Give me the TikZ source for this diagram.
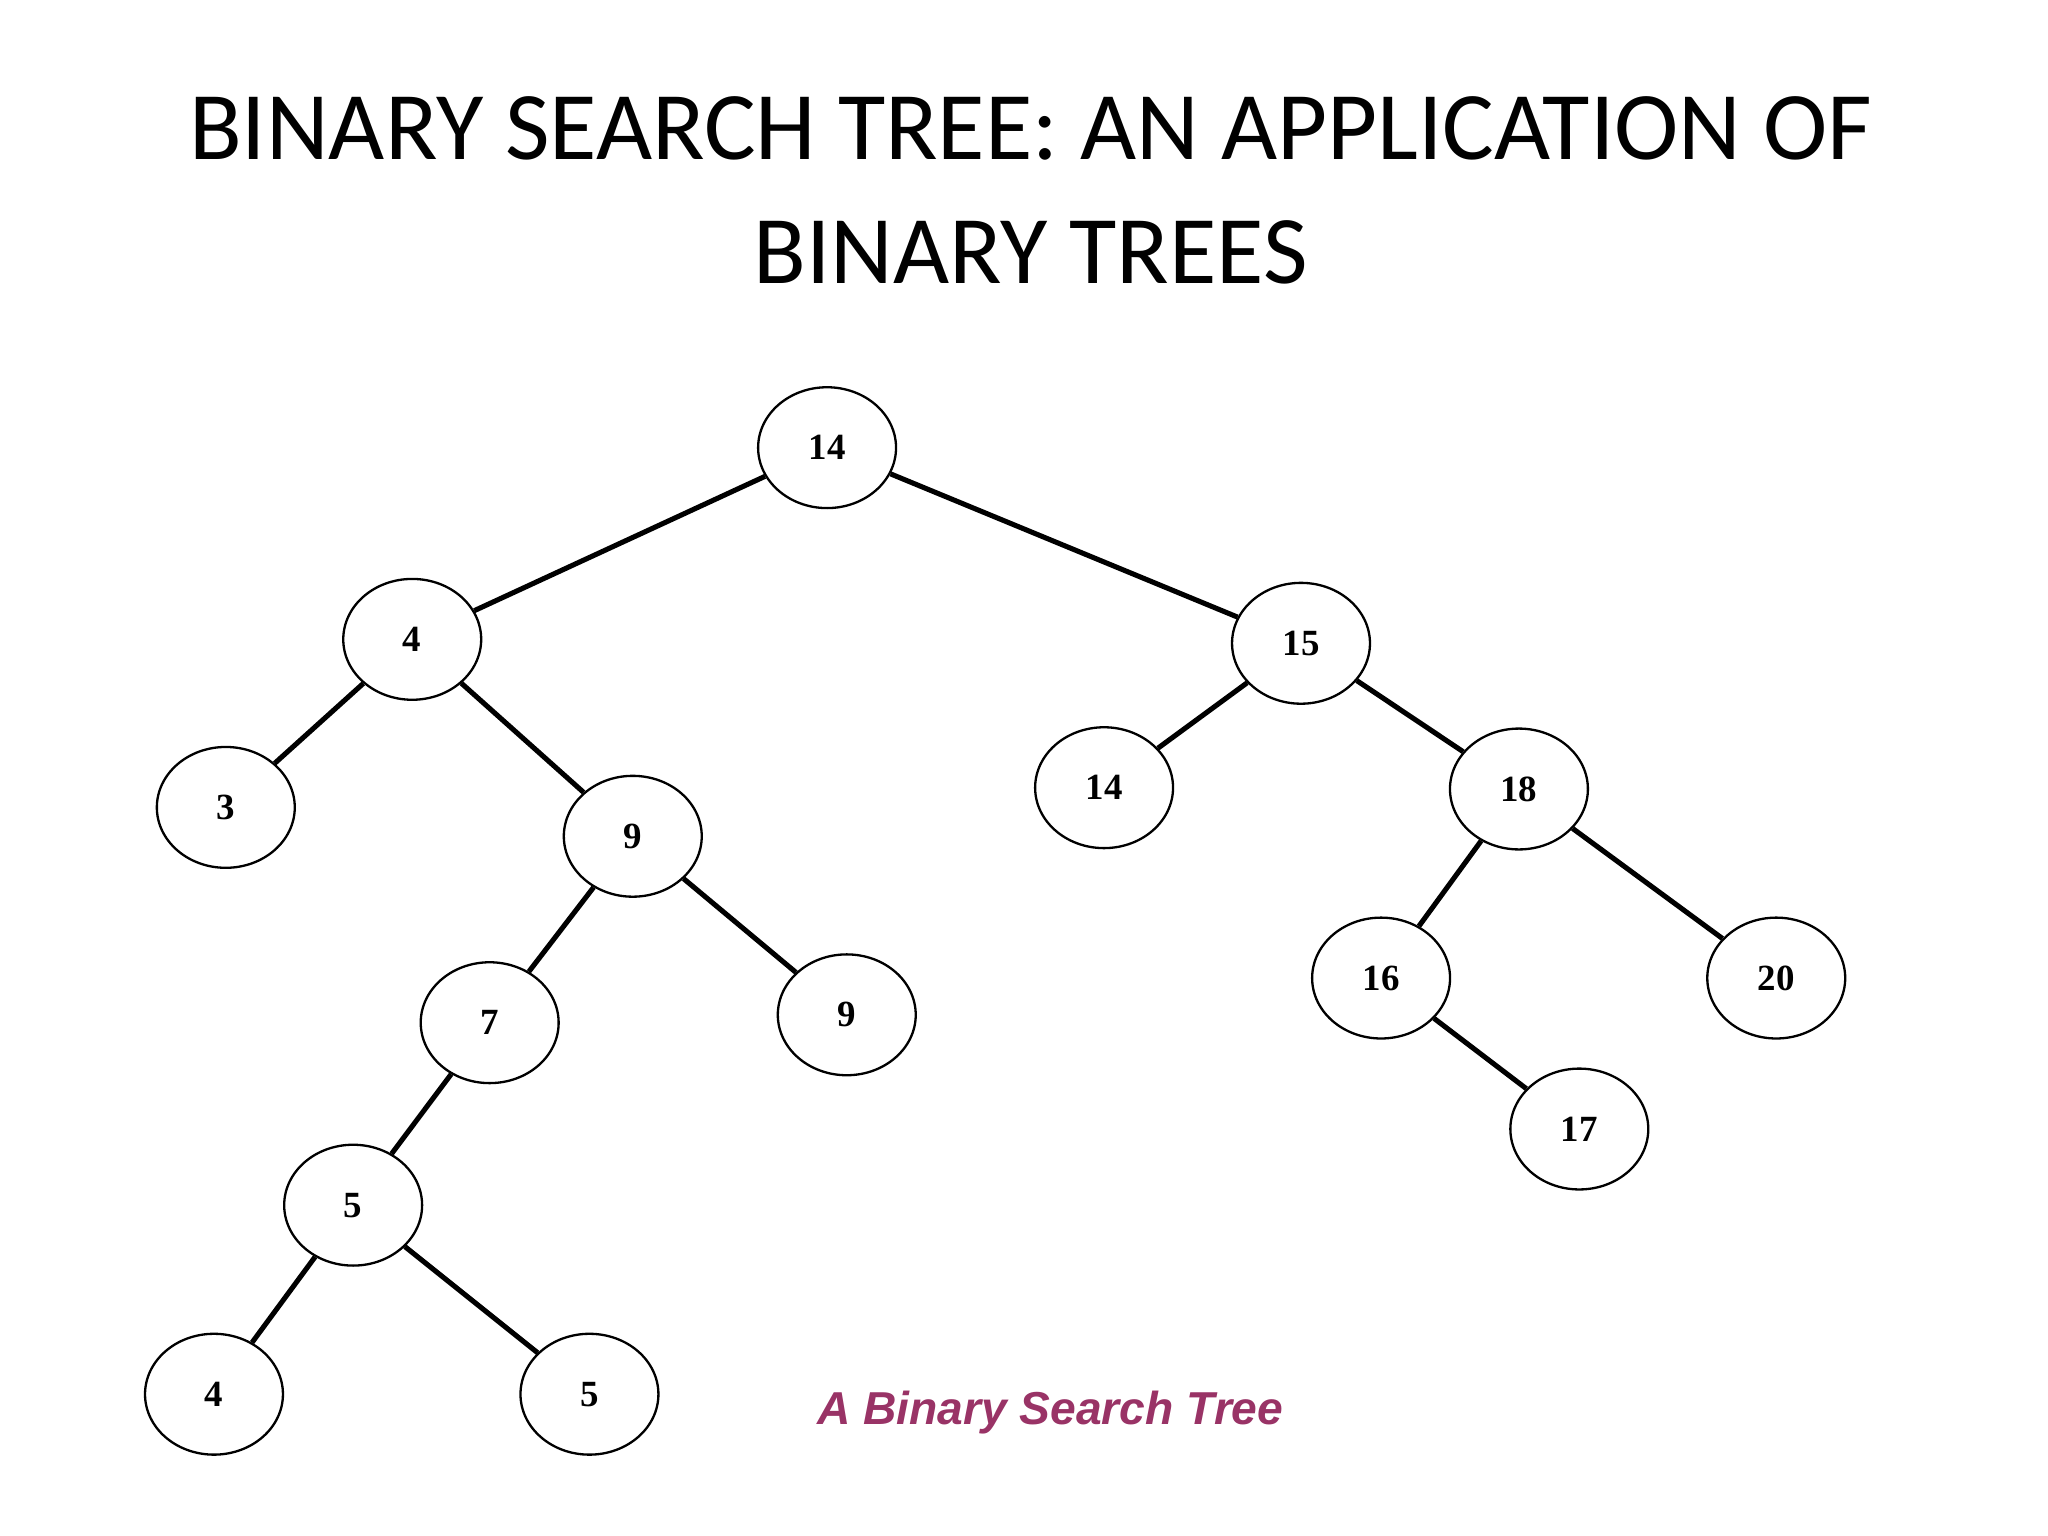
\documentclass[tikz,border=0pt]{standalone}
\usepackage{fontspec}
\setmainfont{Liberation Serif}
\newfontfamily\titlefont{Carlito}
\newfontfamily\capfont{Liberation Sans}
\usetikzlibrary{shapes.geometric}
\definecolor{capcol}{HTML}{993366}
\begin{document}
\begin{tikzpicture}[x=0.01cm,y=-0.01cm,
  tn/.style={draw,ellipse,line width=0.5pt,minimum width=105\pgflinewidth*0+1.05cm,minimum height=0.92cm,font=\fontsize{8}{9}\selectfont\bfseries,inner sep=0pt},
  ed/.style={line width=1.1pt}]
\useasboundingbox (0,0) rectangle (1560,1170);
\node[font=\titlefont\fontsize{21}{27}\selectfont,align=center] (title) at (785,145) {BINARY SEARCH TREE: AN APPLICATION OF\\BINARY TREES};
\node[tn] (r) at (630,341) {14};
\node[tn] (a) at (314,487) {4};
\node[tn] (b) at (991,490) {15};
\node[tn] (c) at (172,615) {3};
\node[tn] (d) at (482,637) {9};
\node[tn] (e) at (841,600) {14};
\node[tn] (f) at (1157,601) {18};
\node[tn] (g) at (373,779) {7};
\node[tn] (h) at (645,773) {9};
\node[tn] (i) at (1052,745) {16};
\node[tn] (j) at (1353,745) {20};
\node[tn] (k) at (1203,860) {17};
\node[tn] (l) at (269,918) {5};
\node[tn] (m) at (163,1062) {4};
\node[tn] (n) at (449,1062) {5};
\draw[ed] (r)--(a); \draw[ed] (r)--(b);
\draw[ed] (a)--(c); \draw[ed] (a)--(d);
\draw[ed] (b)--(e); \draw[ed] (b)--(f);
\draw[ed] (d)--(g); \draw[ed] (d)--(h);
\draw[ed] (f)--(i); \draw[ed] (f)--(j);
\draw[ed] (i)--(k); \draw[ed] (g)--(l);
\draw[ed] (l)--(m); \draw[ed] (l)--(n);
\node[font=\capfont\fontsize{10}{12}\selectfont\bfseries\itshape,text=capcol] (cap) at (800,1076) {A Binary Search Tree};
\end{tikzpicture}
\end{document}
